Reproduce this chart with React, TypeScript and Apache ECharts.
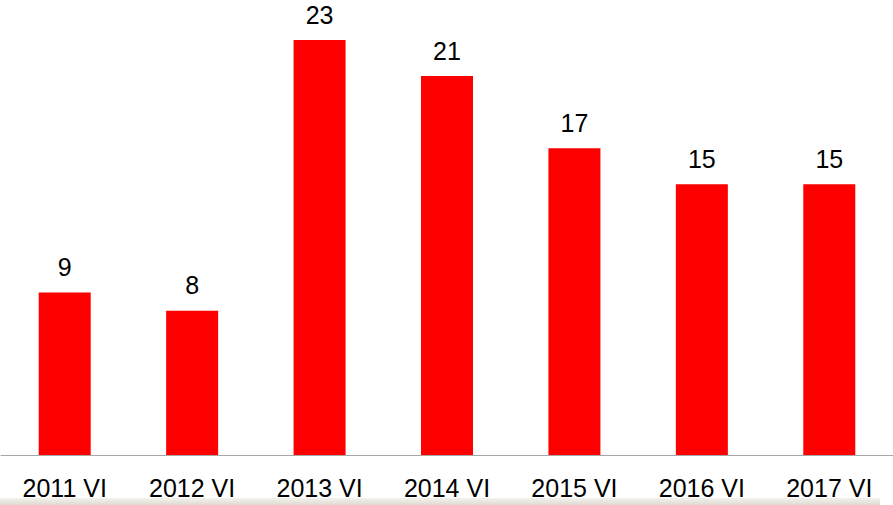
import React, { useEffect, useRef } from "react";
import * as echarts from "echarts";

const categories = ["2011 VI", "2012 VI", "2013 VI", "2014 VI", "2015 VI", "2016 VI", "2017 VI"];
const values = [9, 8, 23, 21, 17, 15, 15];

export default function App() {
  const ref = useRef<HTMLDivElement>(null);
  useEffect(() => {
    if (!ref.current) return;
    const chart = echarts.init(ref.current, null, { renderer: "svg" });
    chart.setOption({
      animation: false,
      backgroundColor: "#ffffff",
      grid: { left: 1, right: -3, top: 40, bottom: 50, containLabel: false },
      xAxis: {
        type: "category",
        data: categories,
        axisLine: { show: true, lineStyle: { color: "#a6a6a6", width: 1 } },
        axisTick: { show: false },
        axisLabel: {
          color: "#000000",
          fontSize: 25,
          fontFamily: "Liberation Sans, Arial, sans-serif",
          margin: 20,
        },
      },
      yAxis: {
        type: "value",
        min: 0,
        max: 23,
        show: false,
        splitLine: { show: false },
      },
      series: [
        {
          type: "bar",
          data: values,
          barWidth: 52,
          itemStyle: { color: "#ff0000" },
          label: {
            show: true,
            position: "top",
            distance: 13,
            color: "#000000",
            fontSize: 25,
            fontFamily: "Liberation Sans, Arial, sans-serif",
          },
        },
      ],
      graphic: [
        {
          type: "rect",
          left: 0,
          top: 498,
          shape: { width: 880, height: 7 },
          style: {
            fill: new echarts.graphic.LinearGradient(0, 0, 0, 1, [
              { offset: 0, color: "#f4f2ec" },
              { offset: 1, color: "#dedbd2" },
            ]),
          },
          silent: true,
        },
      ],
    });
    return () => chart.dispose();
  }, []);
  return (
    <div
      ref={ref}
      style={{ position: "fixed", left: 0, top: 0, width: 893, height: 505 }}
    />
  );
}
